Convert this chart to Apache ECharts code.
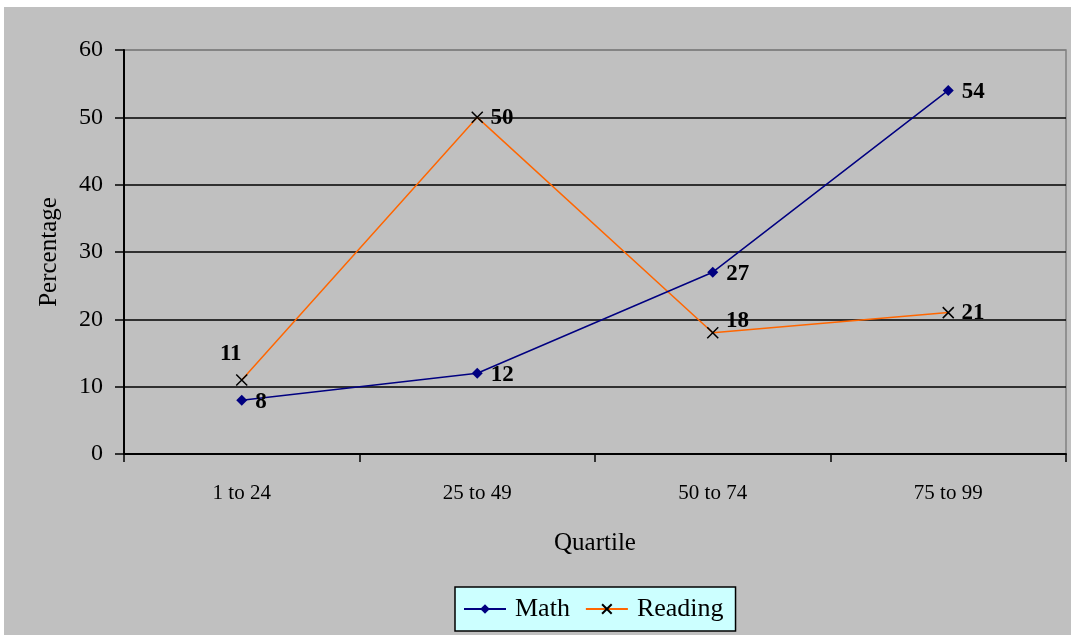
<!DOCTYPE html>
<html>
<head>
<meta charset="utf-8">
<script src="https://cdn.jsdelivr.net/npm/echarts@6/dist/echarts.min.js"></script>
<style>
  html, body { margin: 0; padding: 0; background: #ffffff; }
  #chart { position: absolute; left: 4px; top: 7px; width: 1067px; height: 628px; background: #C0C0C0; }
</style>
</head>
<body>
<div id="chart"></div>
<script>
const categories = ['1 to 24', '25 to 49', '50 to 74', '75 to 99'];
const mathValues = [8, 12, 27, 54];
const readingValues = [11, 50, 18, 21];
const yTicks = { min: 0, max: 60, interval: 10 };

const FONT = '"Liberation Serif", "DejaVu Serif", serif';
const chart = echarts.init(document.getElementById('chart'));

const labelBase = { show: true, fontFamily: FONT, fontWeight: 'bold', fontSize: 23, color: '#000' };
const readingOffsets = [
  { position: 'top', offset: [-11, -3] },
  { position: 'right', offset: [2, 1] },
  { position: 'right', offset: [2, -12] },
  { position: 'right', offset: [2, 0] }
];

chart.setOption({
  animation: false,
  backgroundColor: '#C0C0C0',
  grid: {
    left: 120, top: 43, width: 942, height: 404,
    show: true, borderColor: '#808080', borderWidth: 1.5, backgroundColor: 'transparent'
  },
  legend: {
    left: 451, top: 580,
    backgroundColor: '#CCFFFF', borderColor: '#000', borderWidth: 1.5,
    padding: [9, 12, 9, 8],
    itemWidth: 42, itemHeight: 12, itemGap: 15,
    textStyle: { fontFamily: FONT, fontSize: 26, color: '#000', padding: [0, 0, 0, 4] },
    data: ['Math', 'Reading']
  },
  xAxis: {
    type: 'category',
    data: categories,
    boundaryGap: true,
    name: 'Quartile',
    nameLocation: 'middle',
    nameGap: 77,
    nameTextStyle: { fontFamily: FONT, fontSize: 25, color: '#000' },
    axisLine: { lineStyle: { color: '#000', width: 2 } },
    axisTick: { show: true, length: 8, lineStyle: { color: '#000', width: 1.5 } },
    axisLabel: { fontFamily: FONT, fontSize: 21, color: '#000', margin: 29 },
    splitLine: { show: false }
  },
  yAxis: {
    type: 'value',
    min: yTicks.min, max: yTicks.max, interval: yTicks.interval,
    name: 'Percentage',
    nameLocation: 'middle',
    nameGap: 62,
    nameRotate: 90,
    nameTextStyle: { fontFamily: FONT, fontSize: 25, color: '#000' },
    axisLine: { show: true, lineStyle: { color: '#000', width: 2 } },
    axisTick: { show: true, length: 9, lineStyle: { color: '#000', width: 1.5 } },
    axisLabel: { fontFamily: FONT, fontSize: 24, color: '#000', margin: 21 },
    splitLine: { show: true, lineStyle: { color: ['#000', '#000', '#000', '#000', '#000', '#000', '#808080'], width: 1.5 } }
  },
  series: [
    {
      name: 'Math',
      type: 'line',
      data: mathValues,
      symbol: 'diamond',
      symbolSize: 11,
      lineStyle: { color: '#000080', width: 1.5 },
      itemStyle: { color: '#000080' },
      label: Object.assign({}, labelBase, { position: 'right', offset: [3, 2] }),
      z: 3
    },
    {
      name: 'Reading',
      type: 'line',
      data: readingValues.map((v, i) => ({ value: v, label: readingOffsets[i] })),
      symbol: 'path://M0,0L10,10M10,0L0,10',
      symbolSize: 11,
      lineStyle: { color: '#FF6600', width: 1.5 },
      itemStyle: { color: '#000', borderColor: '#000', borderWidth: 1.5 },
      label: Object.assign({}, labelBase),
      z: 2
    }
  ]
});
</script>
</body>
</html>
